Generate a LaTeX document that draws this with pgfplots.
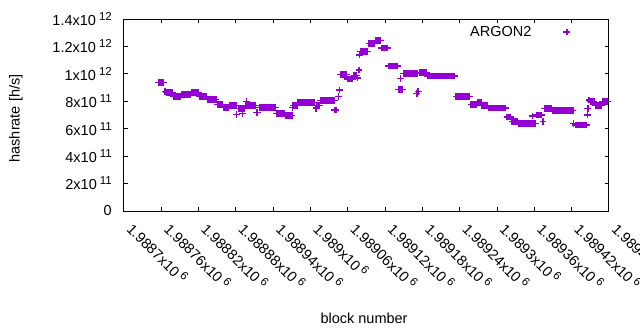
\documentclass[border=0pt]{standalone}
\usepackage{pgfplots}
\pgfplotsset{compat=1.18}
\usepackage{fontspec}
\setmainfont{Liberation Sans}
\definecolor{dv}{HTML}{9400D3}
\newcommand\ex[1]{\hspace{3pt}\raisebox{5pt}{\fontsize{11.5}{12}\selectfont #1}}
\begin{document}
\begin{tikzpicture}[font=\fontsize{14.5}{17}\selectfont]
\begin{axis}[
  at={(0,0)}, anchor=south west,
  scale only axis, width=485pt, height=192pt,
  xmin=0, xmax=780, ymin=0, ymax=1.4e12,
  scaled x ticks=false, scaled y ticks=false,
  xtick={0,60,120,180,240,300,360,420,480,540,600,660,720,780},
  xticklabels={1.9887x10\ex{6},1.98876x10\ex{6},1.98882x10\ex{6},1.98888x10\ex{6},1.98894x10\ex{6},1.989x10\ex{6},1.98906x10\ex{6},1.98912x10\ex{6},1.98918x10\ex{6},1.98924x10\ex{6},1.9893x10\ex{6},1.98936x10\ex{6},1.98942x10\ex{6},1.98948x10\ex{6}},
  ytick={0,2e11,4e11,6e11,8e11,1e12,1.2e12,1.4e12},
  yticklabels={0,2x10\ex{11},4x10\ex{11},6x10\ex{11},8x10\ex{11},1x10\ex{12},1.2x10\ex{12},1.4x10\ex{12}},
  xticklabel style={xshift=11pt, yshift=-9.5pt, rotate=-45, anchor=north west, inner sep=0pt},
  yticklabel style={anchor=east, inner sep=0pt, xshift=-12pt},
  tick align=inside, tick pos=both, major tick length=4pt,
  every tick/.style={black, line width=1pt},
  axis line style={black, line width=1pt},
  xlabel={block number}, ylabel={hashrate [h/s]},
  every axis x label/.style={at={(axis description cs:0.495,-0.56)}, anchor=center},
  every axis y label/.style={at={(axis description cs:-0.2227,0.482)}, rotate=90, anchor=center},
  legend plot pos=right,
  legend image code/.code={\draw plot coordinates {(0pt,0pt)};},
  legend style={draw=none, fill=none, inner sep=0pt, column sep=32pt,
    nodes={inner sep=0pt}, at={(axis description cs:0.9206,0.932)}, anchor=east},
]
\addplot[only marks, mark=+, mark size=3.4pt, color=dv, line width=1.3pt] coordinates {
(56,9.38e11)(58,9.38e11)(60,9.38e11)(62,9.38e11)(64,9.38e11)
(66,8.70e11)
(68,8.66e11)(70,8.66e11)(72,8.66e11)(74,8.66e11)(76,8.66e11)(78,8.66e11)
(80,8.37e11)(82,8.37e11)(84,8.37e11)(86,8.37e11)(88,8.37e11)(90,8.37e11)
(92,8.51e11)(94,8.51e11)(96,8.51e11)(98,8.51e11)(100,8.51e11)(102,8.51e11)(104,8.51e11)(106,8.51e11)
(108,8.64e11)(110,8.64e11)(112,8.64e11)(114,8.64e11)(116,8.64e11)(118,8.64e11)(120,8.64e11)
(122,8.36e11)(124,8.36e11)(126,8.36e11)(128,8.36e11)(130,8.36e11)(132,8.36e11)
(134,8.15e11)(136,8.15e11)(138,8.15e11)(140,8.15e11)(142,8.15e11)(144,8.15e11)(146,8.15e11)(148,8.15e11)
(150,7.77e11)(152,7.77e11)(154,7.77e11)(156,7.77e11)(158,7.77e11)
(160,7.57e11)(162,7.57e11)(164,7.57e11)(166,7.57e11)(168,7.57e11)
(170,7.69e11)(172,7.69e11)(174,7.69e11)(176,7.69e11)(178,7.69e11)(180,7.69e11)
(181,7.02e11)
(184,7.49e11)(186,7.49e11)(188,7.49e11)(190,7.49e11)(192,7.49e11)(194,7.49e11)
(191,7.12e11)
(196,7.69e11)(198,7.69e11)(200,7.69e11)(202,7.69e11)(204,7.69e11)(206,7.69e11)(208,7.69e11)(210,7.69e11)(212,7.69e11)
(197,7.97e11)
(213,7.18e11)(215,7.18e11)
(218,7.57e11)(220,7.57e11)(222,7.57e11)(224,7.57e11)(226,7.57e11)(228,7.57e11)(230,7.57e11)(232,7.57e11)(234,7.57e11)(236,7.57e11)(238,7.57e11)(240,7.57e11)(242,7.57e11)(244,7.57e11)
(245,7.12e11)
(246,7.09e11)(248,7.09e11)(250,7.09e11)(252,7.09e11)(254,7.09e11)(256,7.09e11)(258,7.09e11)
(260,6.96e11)(262,6.96e11)(264,6.96e11)(266,6.96e11)(268,6.96e11)(270,6.96e11)
(271,7.56e11)
(272,7.67e11)(274,7.67e11)(276,7.67e11)(278,7.67e11)
(280,7.93e11)(282,7.93e11)(284,7.93e11)(286,7.93e11)(288,7.93e11)(290,7.93e11)(292,7.93e11)(294,7.93e11)(296,7.93e11)(298,7.93e11)(300,7.93e11)(302,7.93e11)(304,7.93e11)(306,7.93e11)
(309,7.50e11)
(310,7.67e11)(312,7.67e11)(314,7.67e11)
(316,8.06e11)(318,8.06e11)(320,8.06e11)(322,8.06e11)(324,8.06e11)(326,8.06e11)(328,8.06e11)(330,8.06e11)(332,8.06e11)(334,8.06e11)(336,8.06e11)(338,8.06e11)
(339,7.36e11)(341,7.36e11)
(345,8.33e11)(347,8.82e11)
(348,9.95e11)(350,9.95e11)(352,9.95e11)(354,9.95e11)(356,9.95e11)(358,9.95e11)
(360,9.63e11)(362,9.63e11)(364,9.63e11)(366,9.63e11)(368,9.63e11)
(370,9.88e11)(372,9.88e11)(374,9.88e11)(375,9.70e11)
(378,1.028e12)(379,1.138e12)
(380,1.162e12)(382,1.162e12)(384,1.162e12)(386,1.162e12)(388,1.162e12)(390,1.162e12)(392,1.162e12)
(394,1.221e12)(396,1.221e12)(398,1.221e12)(400,1.221e12)(402,1.221e12)
(404,1.245e12)(406,1.245e12)(408,1.245e12)(410,1.245e12)(412,1.245e12)
(414,1.189e12)(416,1.189e12)(418,1.189e12)(420,1.189e12)(422,1.189e12)(424,1.189e12)
(426,1.057e12)(428,1.057e12)(430,1.057e12)(432,1.057e12)(434,1.057e12)(436,1.057e12)(438,1.057e12)(440,1.057e12)
(442,8.87e11)(444,8.87e11)(446,8.87e11)(448,8.87e11)(445,9.65e11)
(450,1.004e12)(452,1.004e12)(454,1.004e12)(456,1.004e12)(458,1.004e12)(460,1.004e12)(462,1.004e12)(464,1.004e12)(466,1.004e12)(468,1.004e12)(470,1.004e12)(472,1.004e12)
(471,8.58e11)(473,8.70e11)
(476,1.010e12)(478,1.010e12)(480,1.010e12)(482,1.010e12)(484,1.010e12)(486,1.010e12)
(488,9.84e11)(490,9.84e11)(492,9.84e11)(494,9.84e11)(496,9.84e11)(498,9.84e11)(500,9.84e11)(502,9.84e11)(504,9.84e11)(506,9.84e11)(508,9.84e11)(510,9.84e11)(512,9.84e11)(514,9.84e11)(516,9.84e11)(518,9.84e11)(520,9.84e11)(522,9.84e11)(524,9.84e11)(526,9.84e11)(528,9.84e11)(530,9.84e11)(532,9.84e11)
(534,8.36e11)(536,8.36e11)(538,8.36e11)(540,8.36e11)(542,8.36e11)(544,8.36e11)(546,8.36e11)(548,8.36e11)(550,8.36e11)(552,8.36e11)(554,8.36e11)(556,8.36e11)
(558,7.78e11)(560,7.78e11)(562,7.78e11)(564,7.78e11)(566,7.78e11)
(568,7.93e11)(570,7.93e11)(572,7.93e11)(574,7.93e11)
(576,7.71e11)(578,7.71e11)(580,7.71e11)(582,7.71e11)(584,7.71e11)
(586,7.51e11)(588,7.51e11)(590,7.51e11)(592,7.51e11)(594,7.51e11)(596,7.51e11)(598,7.51e11)(600,7.51e11)(602,7.51e11)(604,7.51e11)(606,7.51e11)(608,7.51e11)(610,7.51e11)(612,7.51e11)(614,7.51e11)
(616,6.85e11)(618,6.85e11)(620,6.85e11)(622,6.85e11)
(624,6.55e11)(626,6.55e11)(628,6.55e11)(630,6.55e11)(632,6.55e11)
(634,6.37e11)(636,6.37e11)(638,6.37e11)(640,6.37e11)(642,6.37e11)(644,6.37e11)(646,6.37e11)(648,6.37e11)(650,6.37e11)(652,6.37e11)(654,6.37e11)(656,6.37e11)(658,6.37e11)(660,6.37e11)(662,6.37e11)
(657,6.93e11)
(664,7.00e11)(666,7.00e11)(668,7.00e11)(670,7.00e11)(672,7.00e11)
(674,6.51e11)
(676,7.49e11)(678,7.49e11)(680,7.49e11)(682,7.49e11)(684,7.49e11)(686,7.49e11)(688,7.49e11)
(690,7.33e11)(692,7.33e11)(694,7.33e11)(696,7.33e11)(698,7.33e11)(700,7.33e11)(702,7.33e11)(704,7.33e11)(706,7.33e11)(708,7.33e11)(710,7.33e11)(712,7.33e11)(714,7.33e11)(716,7.33e11)(718,7.33e11)(720,7.33e11)(722,7.33e11)
(723,6.39e11)
(726,6.27e11)(728,6.27e11)(730,6.27e11)(732,6.27e11)(734,6.27e11)(736,6.27e11)(738,6.27e11)(740,6.27e11)(742,6.27e11)(744,6.27e11)
(745,7.00e11)(746,7.49e11)(748,8.09e11)
(750,8.01e11)(752,8.01e11)(754,8.01e11)(756,8.01e11)
(758,7.67e11)(760,7.67e11)(762,7.67e11)(764,7.67e11)(766,7.67e11)(768,7.67e11)
(770,7.97e11)(772,7.97e11)(774,7.97e11)(776,7.97e11)(778,7.97e11)
};
\addlegendentry{ARGON2}
\end{axis}
\pgfresetboundingbox
\path[use as bounding box] (-124pt,-119pt) rectangle (516pt,211pt);
\end{tikzpicture}
\end{document}
